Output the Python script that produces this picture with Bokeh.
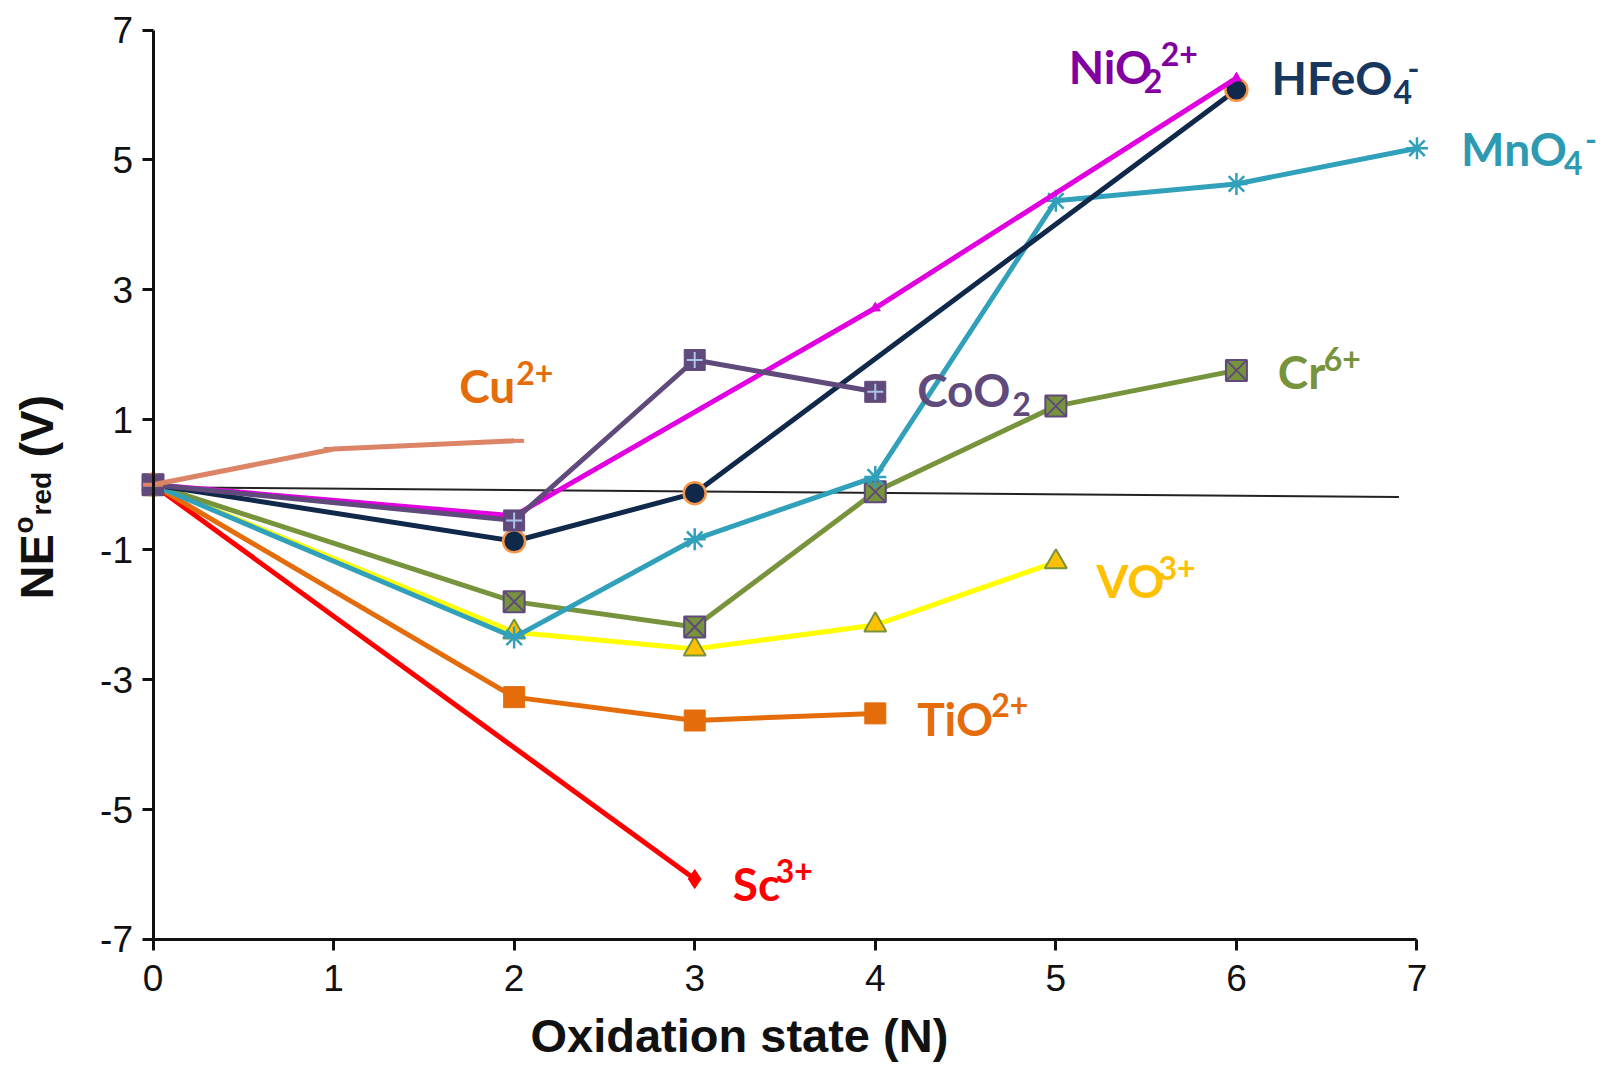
import math
from bokeh.plotting import figure
from bokeh.models import ColumnDataSource, FixedTicker, Range1d
from bokeh.embed import file_html
from bokeh.resources import INLINE
from bokeh.core.properties import value

# ---------------- data ----------------
cu_x = [0, 1, 2]
cu_y = [0, 0.55, 0.675]
sc_x = [0, 3]
sc_y = [0, -6.07]
ti_x = [0, 2, 3, 4]
ti_y = [0, -3.27, -3.63, -3.52]
vo_x = [0, 2, 3, 4, 5]
vo_y = [0, -2.27, -2.53, -2.16, -1.19]
cr_x = [0, 2, 3, 4, 5, 6]
cr_y = [0, -1.80, -2.19, -0.11, 1.21, 1.76]
mn_x = [0, 2, 3, 4, 5, 6, 7]
mn_y = [0, -2.35, -0.84, 0.12, 4.37, 4.63, 5.18]
fe_x = [0, 2, 3, 6]
fe_y = [0, -0.87, -0.13, 6.08]
ni_x = [0, 2, 4, 6]
ni_y = [0, -0.48, 2.72, 6.26]
co_x = [0, 2, 3, 4]
co_y = [0, -0.55, 1.92, 1.43]
ref_x = [0, 6.9]
ref_y = [-0.04, -0.19]

x_ticks = [0, 1, 2, 3, 4, 5, 6, 7]
y_ticks = [-7, -5, -3, -1, 1, 3, 5, 7]

# ---------------- figure / layout ----------------
W, H = 1600, 1064
X0_PX, UX = 152.5, 180.57      # page px of x=0, px per x unit
Y7_PX, UY = 29.5, 64.96        # page px of y=7, px per y unit
x_start = -X0_PX / UX
x_end = (W - X0_PX) / UX
y_end = 7 + Y7_PX / UY
y_start = 7 - (H - Y7_PX) / UY

p = figure(width=W, height=H, x_range=Range1d(x_start, x_end),
           y_range=Range1d(y_start, y_end), output_backend="svg",
           toolbar_location=None, min_border=0)
p.grid.visible = False
p.outline_line_color = None
p.background_fill_color = "white"

for ax, loc, bnds, ticks in ((p.xaxis, -7, (0, 7), x_ticks), (p.yaxis, 0, (-7, 7), y_ticks)):
    ax.fixed_location = loc
    ax.bounds = bnds
    ax.ticker = FixedTicker(ticks=ticks)
    ax.major_label_overrides = {t: str(t) for t in ticks}
    ax.minor_tick_line_color = None
    ax.axis_line_width = 3
    ax.axis_line_color = "#111111"
    ax.major_tick_line_width = 3
    ax.major_tick_line_color = "#111111"
    ax.major_tick_in = 0
    ax.major_tick_out = 11
    ax.major_label_text_font = "Liberation Sans"
    ax.major_label_text_font_size = "37px"
    ax.major_label_text_color = "#111111"
p.xaxis.major_label_standoff = 15
p.yaxis.major_label_standoff = 9

# reference line
p.line(ref_x, ref_y, line_color="#222222", line_width=2)

LW = 5
MS = 21
# Sc3+
p.line(sc_x, sc_y, line_color="#FF0000", line_width=LW, line_join="round")
p.scatter(sc_x, sc_y, marker="diamond", size=19, fill_color="#FF0000", line_color="#FF0000")
# TiO2+
p.line(ti_x, ti_y, line_color="#E46C0A", line_width=LW, line_join="round")
p.scatter(ti_x, ti_y, marker="square", size=MS, fill_color="#E46C0A", line_color="#E46C0A")
# VO3+
p.line(vo_x, vo_y, line_color="#FFFF00", line_width=LW, line_join="round")
p.scatter(vo_x, vo_y, marker="triangle", size=22, fill_color="#FFC000", line_color="#77933C", line_width=2)
# Cr6+
p.line(cr_x, cr_y, line_color="#77933C", line_width=LW, line_join="round")
p.scatter(cr_x, cr_y, marker="square_x", size=MS, fill_color="#77933C", line_color="#604A7B", line_width=2)
# MnO4-
p.line(mn_x, mn_y, line_color="#31A0BA", line_width=LW, line_join="round")
p.scatter(mn_x, mn_y, marker="asterisk", size=22, line_color="#31A0BA", line_width=2.5)
# HFeO4-
p.line(fe_x, fe_y, line_color="#10284A", line_width=LW, line_join="round")
p.scatter(fe_x, fe_y, marker="circle", size=22, fill_color="#10284A", line_color="#F79646", line_width=2.5)
# NiO2 2+
p.line(ni_x, ni_y, line_color="#E000E0", line_width=LW, line_join="round")
p.scatter(ni_x, ni_y, marker="triangle", size=10, fill_color="#E000E0", line_color="#E000E0")
# CoO2
p.line(co_x, co_y, line_color="#604A7B", line_width=LW, line_join="round")
p.scatter(co_x, co_y, marker="square", size=MS, fill_color="#604A7B", line_color="#604A7B")
p.scatter(co_x, co_y, marker="cross", size=16, line_color="#A9C4E8", line_width=2)
# Cu2+
p.line(cu_x, cu_y, line_color="#DB8466", line_width=LW, line_join="round")
p.scatter(cu_x, cu_y, marker="dash", size=20, line_color="#DB8466", line_width=4)

# ---------------- series labels (annotations) ----------------
BIG, SMALL = 46, 32
LATO_MID = 0.387          # rendered baseline lies this many em below the anchor
lab = dict(x=[], y=[], text=[], color=[], size=[])

def label(x, y, main, color, extras):
    """x, y: baseline-left of main text; extras: (text, dx px, dy px down)."""
    lab["x"].append(x); lab["y"].append(y + LATO_MID * BIG / UY)
    lab["text"].append(main); lab["color"].append(color); lab["size"].append(f"{BIG}px")
    for t, dx, dy in extras:
        lab["x"].append(x + dx / UX)
        lab["y"].append(y - dy / UY + LATO_MID * SMALL / UY)
        lab["text"].append(t); lab["color"].append(color); lab["size"].append(f"{SMALL}px")

SUP, SUB = -18, 9
label(1.696, 1.258, "Cu", "#E46C0A", [("2+", 57, SUP)])
label(4.232, 1.195, "CoO", "#604A7B", [("2", 95, SUB)])
label(6.229, 1.463, "Cr", "#77933C", [("6+", 46, SUP)])
label(5.071, 6.162, "NiO", "#8200A0", [("2", 75, SUB), ("2+", 92, SUP)])
label(6.194, 5.988, "HFeO", "#17375E", [("4", 122, SUB), ("-", 136, SUP + 3)])
label(7.244, 4.901, "MnO", "#2E9AB2", [("4", 103, SUB), ("-", 124, SUP + 3)])
label(5.225, -1.753, "VO", "#FFC000", [("3+", 62, SUP)])
label(4.232, -3.866, "TiO", "#E46C0A", [("2+", 74, SUP)])
label(3.211, -6.420, "Sc", "#FF0000", [("3+", 43, SUP)])

p.text(x="x", y="y", text="text", source=ColumnDataSource(lab), text_color="color",
       text_font_size="size", text_font=value("Lato"), text_font_style="bold",
       text_baseline="alphabetic", text_align="left")

# ---------------- axis titles ----------------
LIB_MID = 0.347
def px_x(px):
    return (px - X0_PX) / UX
def px_y(py):
    return 7 - (py - Y7_PX) / UY

# rotated y title: baseline page-x, start page-y, size
yt = [("NE", 52, 599, 47), ("o", 33, 533, 28), ("red", 51, 515, 28), ("(V)", 52, 457, 47)]
yl = dict(x=[px_x(bx - LIB_MID * s) for _, bx, _, s in yt],
          y=[px_y(sy) for _, _, sy, _ in yt],
          text=[t for t, _, _, _ in yt],
          size=[f"{s}px" for _, _, _, s in yt])
p.text(x="x", y="y", text="text", source=ColumnDataSource(yl), angle=math.pi / 2,
       text_color="#111111", text_font_size="size", text_font=value("Liberation Sans"),
       text_font_style="bold", text_baseline="alphabetic", text_align="left")
p.text(x=[px_x(530)], y=[px_y(1051 - LIB_MID * 47)], text=["Oxidation state (N)"],
       text_color="#111111", text_font_size="47px", text_font=value("Liberation Sans"),
       text_font_style="bold", text_baseline="alphabetic", text_align="left")

open("out.html", "w").write(file_html(p, INLINE))
